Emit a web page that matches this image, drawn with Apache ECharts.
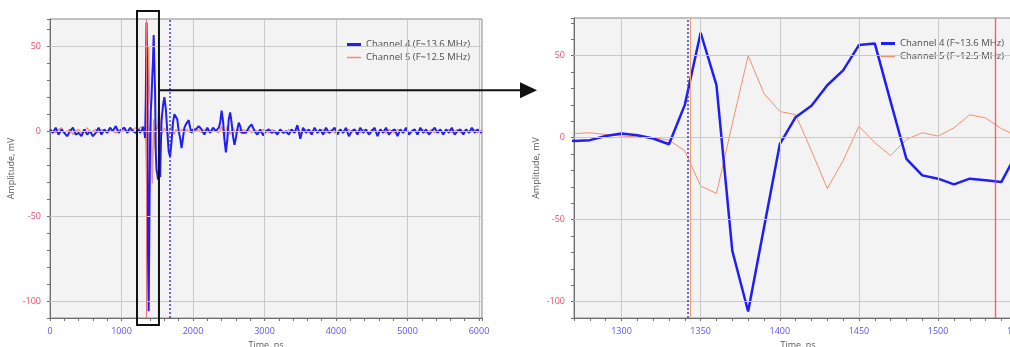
<!DOCTYPE html>
<html><head><meta charset="utf-8">
<script src="https://cdn.jsdelivr.net/npm/echarts@6/dist/echarts.min.js"></script>
<style>html,body{margin:0;padding:0;background:#fff;overflow:hidden}#c{width:1010px;height:347px}</style>
</head><body><div id="c"></div>
<script>
// ---- data (time in ns, amplitude in mV) ----
const timeNs = [
  0,40,80,120,160,200,240,280,320,360,400,440,480,520,560,600,640,680,720,760,800,840,880,920,960,1000,1040,1080,1120,1160,1200,1240,
  1260,1270,1280,1290,1300,1310,1320,1330,1340,1350,1360,1370,1380,1390,1400,1410,1420,1430,1440,1450,1460,1470,1480,1490,1500,1510,1520,1530,1540,1550,1560,
  1580,1600,1620,1640,1660,1680,1700,1720,1740,1760,1780,1800,1820,1840,1860,1880,1900,1920,1940,1960,1980,2000,
  2040,2080,2120,2160,2200,2240,2280,2320,2360,
  2380,2400,2420,2440,2460,2480,2500,2520,2540,2560,2580,2600,2620,2640,2660,2680,2700,
  2740,2780,2820,2860,2900,2940,2980,3020,3060,3100,3140,3180,3220,3260,3300,3340,3380,3420,3460,3500,
  3540,3580,3620,3660,3700,3740,3780,3820,3860,3900,3940,3980,4020,4060,4100,4140,4180,4220,4260,4300,
  4340,4380,4420,4460,4500,4540,4580,4620,4660,4700,4740,4780,4820,4860,4900,4940,4980,5020,5060,5100,
  5140,5180,5220,5260,5300,5340,5380,5420,5460,5500,5540,5580,5620,5660,5700,5740,5780,5820,5860,5900,
  5940,5980,6020,6040
];
const ch4mV = [
  1,-1,2,-2,1,-1,-3,0,2,-2,-1,-3,1,-2,0,-3,-1,2,-2,1,-1,2,0,3,-1,1,2,-1,2,0,-1,1,
  -1,-2,-1.5,1,2.5,1.5,-0.5,-4,20,64,32,-69,-106,-55,-4,12.5,19.5,32,41,56.5,57.5,22,-13,-23,-25,-28.5,-25,-26,-27,-9,6,
  15,20,13,0,-12,-15,-6,5,10,11,7,0,-4,-10,-10,2,4,5,6.5,2,-1,1,
  1,3,1,-2,2,-1,2,0,2,
  5,12,6,-5,-12.5,-5,7,11,5,-3,-8,-4,1,5,3,-1,-2,
  -1,2,4,0,-2,1,-2.5,0,1,-1,0,-2,1,-1,0,-2,1,-1,3.5,-4.5,
  2,-1,1,-2,2,-1,1,-2,2,-1,0,2,-2,1,-1,2,-3,0,1,-2,
  2,-1,1,-2,0,2,-3,1,-1,2,-2,0,1,-3,1,-1,2,-2,0,1,
  -2,2,-1,1,-2,0,2,-1,1,-2,1,-1,2,-2,0,1,-2,1,-1,2,
  -1,1,-1,0
];
const ch5mV = [
  1,0,-1,1,2,-1,0,1,-2,0,1,-1,0,2,-1,0,1,-1,1,0,-1,1,0,-1,1,0,1,-1,0,1,2,1,
  2,2.5,3,2,1,0.5,0,-1.5,-8,-29.5,-34,8.5,50,27,16,14,-8,-31,-14,7,-3,-11,-1,3,1,6,14,12,5.5,1,-2,
  -3,2,3,-1,-3,1,3,0,-2,1,2,-1,-2,1,2,0,-1,1,0,-1,1,0,
  0,1,-1,1,0,-1,1,0,-1,
  1,3,-1,-3,0,3,1,-2,-1,2,1,-1,0,1,-1,0,1,
  0,1,-1,1,0,-1,1,0,-1,1,0,-1,1,0,-1,1,0,-1,2,-1,
  0,1,-1,0,1,-1,0,1,-1,0,1,-1,0,1,-1,0,1,-1,1,0,
  -1,1,0,-1,1,0,-1,1,0,-1,1,0,-1,1,0,-1,1,-1,0,1,
  -1,0,1,-1,0,1,-1,0,1,-1,0,1,-1,0,1,-1,0,1,-1,0,
  1,-1,0,1
];
const seriesNames = ['Channel 4 (F~13.6 MHz)', 'Channel 5 (F~12.5 MHz)'];
const yGridValues = [-100, -50, 0, 50];
const leftXGridValues = [1000, 2000, 3000, 4000, 5000, 6000];
const rightXGridValues = [1300, 1350, 1400, 1450, 1500, 1550];
const leftCursors = { red: 1342, blue: 1670 };
const rightCursors = { blue: 1342, orange: 1343.5, red: 1536 };
const zoomBoxNs = [1217, 1524];
const arrowLevelMV = 24;

// ---- layout / style ----
const L = { left: 50, top: 19, width: 432, height: 299 };
const R = { left: 574, top: 18, width: 448, height: 300 };
const FONT = 'Open Sans';
const BLUE = '#1f1ff5';
const SALMON = '#f2906f';

const pts4 = timeNs.map((t, i) => [t, ch4mV[i]]);
const pts5 = timeNs.map((t, i) => [t, ch5mV[i]]);

const fmtStep = step => v => (Math.abs(v % step) < 1e-6 ? String(Math.round(v)) : '');

function xAxisDef(gi, min, max, interval, step) {
  return {
    type: 'value', gridIndex: gi, min, max, interval,
    axisLine: { show: true, onZero: false, lineStyle: { color: '#6e6e6e', width: 1 } },
    axisTick: { show: true, inside: false, length: 3, lineStyle: { color: '#6e6e6e' } },
    axisLabel: { formatter: fmtStep(step), color: '#5a55ee', fontSize: 9, fontFamily: FONT, margin: 9,
                 showMinLabel: true, showMaxLabel: true, hideOverlap: false },
    splitLine: { show: false },
    name: 'Time, ns', nameLocation: 'middle', nameGap: 19,
    nameTextStyle: { color: '#5a5a5a', fontSize: 9, fontFamily: FONT }
  };
}
function yAxisDef(gi, min, max, gap) {
  return {
    type: 'value', gridIndex: gi, min, max, interval: 10,
    axisLine: { show: true, onZero: false, lineStyle: { color: '#6e6e6e', width: 1 } },
    axisTick: { show: true, inside: false, length: 3, lineStyle: { color: '#6e6e6e' } },
    axisLabel: { formatter: fmtStep(50), color: '#ee4a6a', fontSize: 9, fontFamily: FONT, margin: 9 },
    splitLine: { show: false },
    name: 'Amplitude, mV', nameLocation: 'middle', nameGap: gap, nameRotate: 90,
    nameTextStyle: { color: '#5a5a5a', fontSize: 9, fontFamily: FONT }
  };
}
function gridLineSeries(gi, xs) {
  return {
    type: 'line', xAxisIndex: gi, yAxisIndex: gi, data: [], symbol: 'none', silent: true, z: 1,
    markLine: {
      silent: true, symbol: ['none', 'none'], label: { show: false }, animation: false,
      lineStyle: { type: 'solid', color: '#c9c9c9', width: 1 },
      data: xs.map(v => ({ xAxis: v })).concat(yGridValues.map(v => ({ yAxis: v })))
    }
  };
}
function cursorSeries(gi, items) {
  return {
    type: 'line', xAxisIndex: gi, yAxisIndex: gi, data: [], symbol: 'none', silent: true, z: 2,
    markLine: {
      silent: true, symbol: ['none', 'none'], label: { show: false }, animation: false,
      data: items
    }
  };
}
function trace(gi, name, data, color, width, z) {
  return {
    type: 'line', name, xAxisIndex: gi, yAxisIndex: gi, data, symbol: 'none', showSymbol: false, z,
    lineStyle: { color, width }, itemStyle: { color }, animation: false, clip: true
  };
}
function legendItem(name, left, top, thickness, color) {
  return {
    left, top, orient: 'vertical', itemWidth: 14, itemHeight: thickness, selectedMode: false,
    icon: 'rect', itemStyle: { color, borderWidth: 0 },
    data: [name],
    textStyle: { color: '#4d4d4d', fontSize: 9.5, fontFamily: FONT, lineHeight: 11 }
  };
}

const gridBase = { show: true, backgroundColor: '#f3f3f3', borderColor: '#8a8a8a', borderWidth: 1,
                   containLabel: false, outerBoundsMode: 'none' };

const chart = echarts.init(document.getElementById('c'), null, { renderer: 'canvas' });
chart.setOption({
  animation: false,
  backgroundColor: '#ffffff',
  grid: [Object.assign({}, gridBase, L), Object.assign({}, gridBase, R)],
  xAxis: [xAxisDef(0, 0, 6042, 200, 1000), xAxisDef(1, 1270, 1553, 10, 50)],
  yAxis: [yAxisDef(0, -110, 66, 34), yAxisDef(1, -110, 73, 33)],
  legend: [
    legendItem(seriesNames[0], 342, 34, 3, BLUE),
    legendItem(seriesNames[1], 342, 47, 1.5, SALMON),
    legendItem(seriesNames[0], 876, 33, 3, BLUE),
    legendItem(seriesNames[1], 876, 46, 1.5, SALMON)
  ],
  series: [
    gridLineSeries(0, leftXGridValues),
    gridLineSeries(1, rightXGridValues),
    cursorSeries(0, [
      { xAxis: leftCursors.red, lineStyle: { color: '#f07080', width: 1, type: 'solid' } },
      { xAxis: leftCursors.blue, lineStyle: { color: '#3a3af5', width: 1.5, type: [2, 2] } }
    ]),
    cursorSeries(1, [
      { xAxis: rightCursors.orange, lineStyle: { color: '#f0a060', width: 1, type: 'solid' } },
      { xAxis: rightCursors.blue, lineStyle: { color: '#3a3af5', width: 1.5, type: [2, 2] } },
      { xAxis: rightCursors.red, lineStyle: { color: '#ff3c3c', width: 1.4, type: 'solid', opacity: 0.8 } }
    ]),
    trace(0, seriesNames[1], pts5, SALMON, 1.3, 3),
    trace(0, seriesNames[0], pts4, BLUE, 2, 4),
    trace(1, seriesNames[1], pts5, SALMON, 1, 3),
    trace(1, seriesNames[0], pts4, BLUE, 2.5, 4)
  ]
});

// ---- zoom annotation: box over the left trace and arrow to the right panel ----
const bx0 = chart.convertToPixel({ xAxisIndex: 0 }, zoomBoxNs[0]);
const bx1 = chart.convertToPixel({ xAxisIndex: 0 }, zoomBoxNs[1]);
const ay = chart.convertToPixel({ yAxisIndex: 0 }, arrowLevelMV);
const boxTop = L.top - 8, boxBottom = L.top + L.height + 7;
const tipX = R.left - 37;
chart.setOption({
  graphic: [
    { type: 'rect', z: 100, shape: { x: bx0, y: boxTop, width: bx1 - bx0, height: boxBottom - boxTop },
      style: { fill: 'none', stroke: '#111', lineWidth: 2 } },
    { type: 'line', z: 100, shape: { x1: bx1, y1: ay, x2: tipX - 14, y2: ay },
      style: { stroke: '#111', lineWidth: 2 } },
    { type: 'polygon', z: 100, shape: { points: [[tipX, ay], [tipX - 17, ay - 8], [tipX - 17, ay + 8]] },
      style: { fill: '#111' } }
  ]
});
</script></body></html>
